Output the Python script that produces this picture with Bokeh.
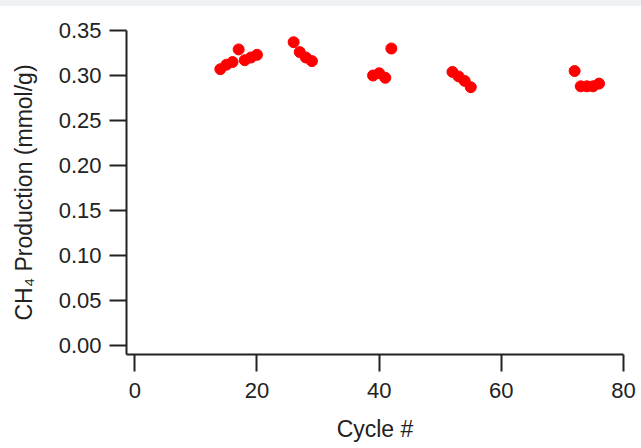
from bokeh.plotting import figure
from bokeh.models import FixedTicker, PrintfTickFormatter, Range1d, Div
from bokeh.layouts import column
from bokeh.embed import file_html
from bokeh.resources import INLINE

# Data
cycles = [14, 15, 16, 17, 18, 19, 20,
          26, 27, 28, 29,
          39, 40, 41, 42,
          52, 53, 54, 55,
          72, 73, 74, 75, 76]
ch4_production = [0.307, 0.312, 0.315, 0.329, 0.317, 0.320, 0.323,
                  0.337, 0.326, 0.320, 0.316,
                  0.300, 0.3025, 0.2975, 0.330,
                  0.304, 0.299, 0.294, 0.287,
                  0.305, 0.288, 0.288, 0.288, 0.291]

x_ticks = [0, 20, 40, 60, 80]
y_ticks = [0.00, 0.05, 0.10, 0.15, 0.20, 0.25, 0.30, 0.35]

FONT = "Liberation Sans"
INK = "#222222"
BAND = 6

p = figure(width=641, height=448 - BAND, output_backend="svg", toolbar_location=None,
           x_range=Range1d(-1.36, 80.0), y_range=Range1d(-0.01, 0.35),
           min_border_left=126, min_border_right=18,
           min_border_top=30 - BAND, min_border_bottom=94, margin=0)

p.scatter(cycles, ch4_production, size=11, color="#ff0000", line_color="#ff0000")

p.outline_line_color = None
p.grid.visible = False
p.background_fill_color = "white"
p.border_fill_color = "white"

for ax in (p.xaxis[0], p.yaxis[0]):
    ax.axis_line_color = INK
    ax.axis_line_width = 2
    ax.major_tick_line_color = INK
    ax.major_tick_line_width = 2
    ax.major_tick_in = 0
    ax.minor_tick_line_color = None
    ax.major_label_text_font = FONT
    ax.major_label_text_font_size = "22px"
    ax.major_label_text_color = INK
    ax.axis_label_text_font = FONT
    ax.axis_label_text_font_size = "23px"
    ax.axis_label_text_font_style = "normal"
    ax.axis_label_text_color = INK

p.xaxis[0].ticker = FixedTicker(ticks=x_ticks)
p.xaxis[0].major_tick_out = 17
p.xaxis[0].major_label_standoff = 11
p.xaxis[0].axis_label = "Cycle #"
p.xaxis[0].axis_label_standoff = 15

p.yaxis[0].ticker = FixedTicker(ticks=y_ticks)
p.yaxis[0].formatter = PrintfTickFormatter(format="%.2f")
p.yaxis[0].major_tick_out = 17
p.yaxis[0].major_label_standoff = 8
p.yaxis[0].axis_label = "CH\u2084 Production (mmol/g)"
p.yaxis[0].axis_label_standoff = 19

band = Div(text="", width=641, height=BAND, margin=0,
           styles={"background-color": "#f0f1f3"})

layout = column(band, p, spacing=0, margin=0)

open("out.html", "w").write(file_html(layout, INLINE))
